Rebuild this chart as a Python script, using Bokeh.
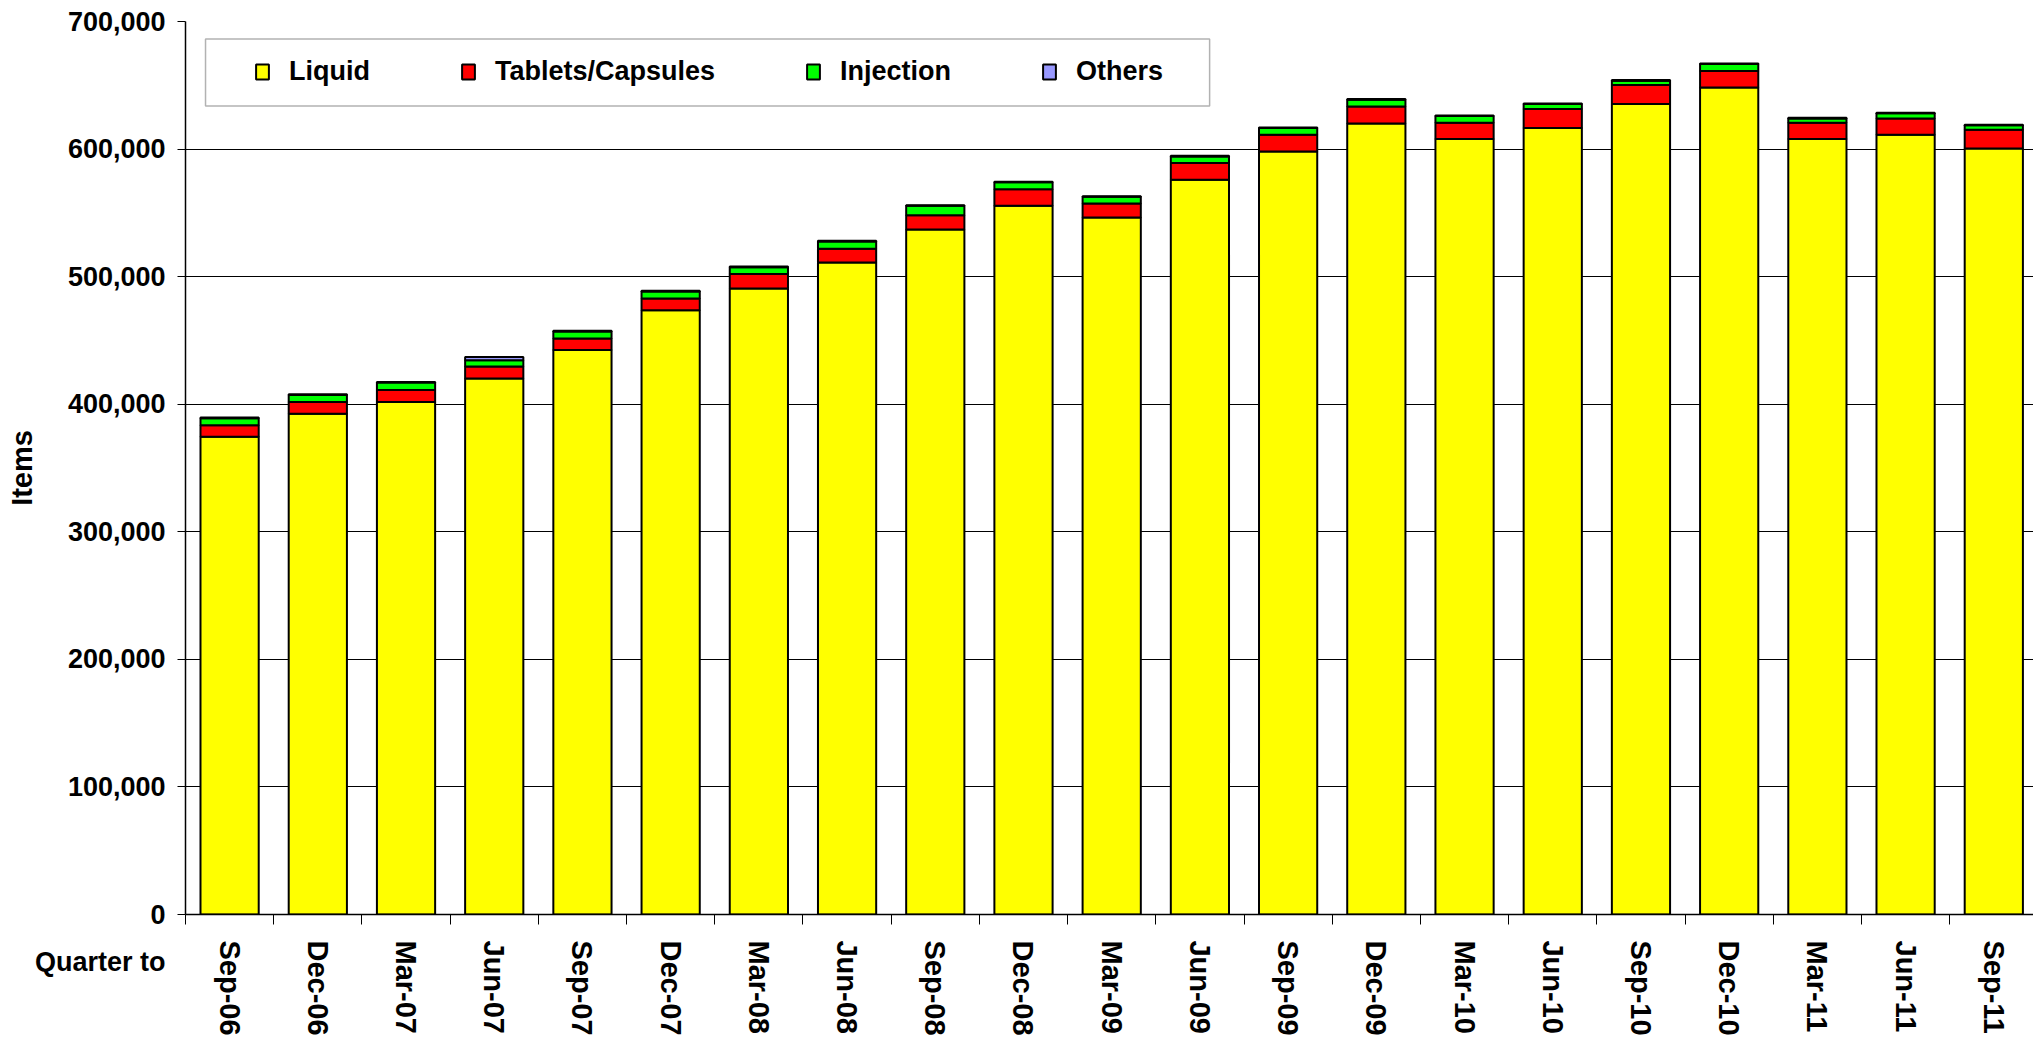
import math
from bokeh.plotting import figure
from bokeh.models import (Range1d, FixedTicker, NumeralTickFormatter, Legend,
                          BoxAnnotation)
from bokeh.embed import file_html
from bokeh.resources import INLINE

categories = ["Sep-06", "Dec-06", "Mar-07", "Jun-07", "Sep-07", "Dec-07", "Mar-08",
              "Jun-08", "Sep-08", "Dec-08", "Mar-09", "Jun-09", "Sep-09", "Dec-09",
              "Mar-10", "Jun-10", "Sep-10", "Dec-10", "Mar-11", "Jun-11", "Sep-11"]
liquid = [374500, 392600, 401800, 420100, 442400, 473700, 490700, 511100, 537000,
          555500, 546400, 575900, 598100, 620100, 607800, 616500, 635300, 648300,
          607800, 611200, 600500]
tablets = [9000, 9200, 9400, 9400, 9100, 9100, 11300, 10700, 11200, 13100, 10900,
           13100, 13100, 13300, 12800, 14900, 14900, 12900, 12800, 12800, 14600]
injection = [5500, 5500, 5800, 5000, 5500, 5600, 5400, 5800, 7300, 5300, 5300, 5200,
             5300, 5300, 5300, 3900, 3400, 5400, 3400, 4000, 3500]
others = [500, 500, 500, 2600, 500, 500, 500, 500, 500, 500, 500, 500, 500, 500,
          500, 500, 500, 500, 500, 500, 500]
series_names = ["Liquid", "Tablets/Capsules", "Injection", "Others"]
series_colors = ["#FFFF00", "#FF0000", "#00FF00", "#9999FF"]
y_ticks = [0, 100000, 200000, 300000, 400000, 500000, 600000, 700000]
x_title = "Quarter to"
y_title = "Items"

FONT = "Liberation Sans"
xpos = list(range(len(categories)))
data = dict(x=xpos, Liquid=liquid, **{"Tablets/Capsules": tablets},
            Injection=injection, Others=others)

p = figure(width=2033, height=1041, output_backend="svg", toolbar_location=None,
           x_range=Range1d(-0.5, 20.45), y_range=Range1d(0, 700000),
           min_border_left=185, min_border_right=0, min_border_top=21,
           min_border_bottom=127)
p.outline_line_color = None
p.background_fill_color = "white"
p.border_fill_color = "white"

renderers = p.vbar_stack(series_names, x="x", width=0.66, source=data,
                         fill_color=series_colors, line_color="black",
                         line_width=2)

# x axis: labels at bar centres, tick marks between categories
p.xaxis.ticker = FixedTicker(ticks=xpos, minor_ticks=[i - 0.5 for i in range(len(categories) + 1)])
p.xaxis.major_label_overrides = {i: c for i, c in zip(xpos, categories)}
p.xaxis.major_label_orientation = -math.pi / 2
p.xaxis.major_tick_out = 0
p.xaxis.major_tick_in = 0
p.xaxis.minor_tick_out = 10
p.xaxis.minor_tick_in = 0
p.xaxis.minor_tick_line_color = "black"
p.xaxis.major_label_standoff = 16
p.xaxis.major_label_text_font = FONT
p.xaxis.major_label_text_font_style = "bold"
p.xaxis.major_label_text_font_size = "29px"
p.xaxis.major_label_text_color = "black"
p.xaxis.axis_line_color = "black"
p.xaxis.axis_line_width = 1.5

# y axis; the "Quarter to" caption rides under the "0" tick label
p.yaxis.ticker = FixedTicker(ticks=y_ticks)
p.yaxis.formatter = NumeralTickFormatter(format="0,0")
p.yaxis.major_label_overrides = {0: " \n0\n" + x_title}
p.yaxis.major_label_text_line_height = 1.58
p.yaxis.major_tick_out = 8
p.yaxis.major_tick_in = 0
p.yaxis.minor_tick_line_color = None
p.yaxis.major_label_standoff = 12
p.yaxis.major_label_text_font = FONT
p.yaxis.major_label_text_font_style = "bold"
p.yaxis.major_label_text_font_size = "27px"
p.yaxis.major_label_text_color = "black"
p.yaxis.axis_line_color = "black"
p.yaxis.axis_line_width = 1.5
p.yaxis.axis_label = y_title
p.yaxis.axis_label_text_font = FONT
p.yaxis.axis_label_text_font_style = "bold"
p.yaxis.axis_label_text_font_size = "29px"
p.yaxis.axis_label_text_color = "black"
p.yaxis.axis_label_standoff = -6

p.xgrid.grid_line_color = None
p.ygrid.ticker = FixedTicker(ticks=y_ticks)
p.ygrid.grid_line_color = "black"
p.ygrid.grid_line_width = 1.2

# legend frame
p.add_layout(BoxAnnotation(left=-0.273, right=11.11, bottom=633700, top=686300,
                           fill_color="white", fill_alpha=1.0, line_color="black",
                           line_width=1.5))

legend = Legend(items=[(n, [r]) for n, r in zip(series_names, renderers)],
                orientation="horizontal", location=(69, 827),
                border_line_color=None, background_fill_alpha=0,
                padding=0, margin=0, spacing=90, label_standoff=19,
                glyph_width=16, glyph_height=19, label_height=32,
                label_text_font=FONT, label_text_font_style="bold",
                label_text_font_size="27px", label_text_color="black")
p.add_layout(legend)

open("out.html", "w").write(file_html(p, INLINE))
